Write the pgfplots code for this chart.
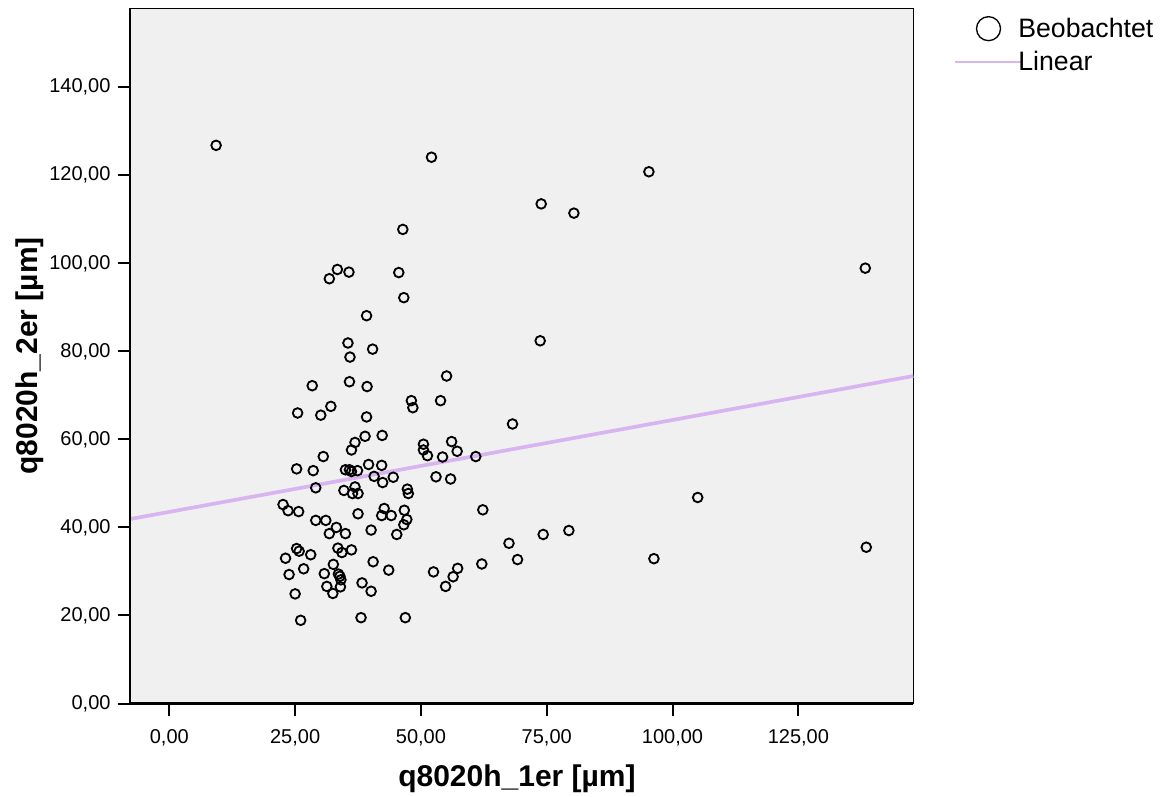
\documentclass[border=0pt]{standalone}
\usepackage{pgfplots}
\pgfplotsset{compat=1.18}
\usepackage{fontspec}
\setmainfont{Liberation Sans}
\definecolor{plotbg}{RGB}{240,240,240}
\definecolor{fitline}{RGB}{216,180,240}

\begin{document}
\begin{tikzpicture}
\path[use as bounding box] (0,0) rectangle (696pt,477.6pt);
\begin{axis}[
  at={(78pt,55.5pt)}, anchor=south west,
  width=470pt, height=417.3pt, scale only axis,
  xmin=-7.81, xmax=147.85, ymin=0, ymax=158,
  clip=false,
  axis background/.style={fill=plotbg},
  axis line style={black, line width=0.6pt},
  xtick={0,25,...,125}, ytick={0,20,...,140},
  tick align=outside, tick pos=left,
  major tick length=7.5pt,
  tick style={black, line width=1.2pt},
  /pgf/number format/.cd, fixed, fixed zerofill, precision=2, use comma, 1000 sep={}, assume math mode=true,
  /pgfplots/.cd,
  tick label style={font=\fontsize{12}{14}\selectfont},
  yticklabel style={inner sep=0pt, xshift=-4pt},
  xticklabel style={inner sep=0pt, yshift=-8pt},
  xlabel={q8020h\_1er [µm]},
  ylabel={q8020h\_2er [µm]},
  label style={font=\fontsize{18}{21}\selectfont\bfseries},
  xlabel style={at={(axis description cs:0.494,-0.12)}, anchor=base, inner sep=0pt},
  ylabel style={at={(axis description cs:-0.1187,0.5)}, anchor=base, inner sep=0pt},
  legend style={at={(axis description cs:1.0532,0.9885)}, anchor=north west,
    draw=none, fill=none, inner sep=0pt, outer sep=0pt,
    font=\fontsize{16}{19}\selectfont,
    nodes={inner sep=0pt},
    row sep=5pt,
    /tikz/every even column/.append style={column sep=0pt}},
  legend cell align=left,
]
\addplot[only marks, mark=o, mark size=2.9pt, mark options={black, line width=1.1pt},
  legend image code/.code={\path[draw=none, fill=none] (0,-7.2pt) rectangle (38pt,7.2pt);
    \draw[black, line width=0.8pt] (20.1pt,0) circle (7.2pt);}]
coordinates {
(9.3,126.8) (52.1,124.1) (95.3,120.8) (73.9,113.5) (80.4,111.4) (46.4,107.7)
(138.3,98.9) (33.4,98.6) (31.8,96.5) (35.7,98.0) (45.6,97.9) (46.6,92.2)
(39.2,88.1) (35.5,81.9) (73.7,82.4) (40.4,80.5) (35.9,78.7) (55.1,74.4)
(28.4,72.2) (35.8,73.1) (39.3,72.0) (48.1,68.8) (48.4,67.2) (53.9,68.8)
(25.5,66.0) (32.1,67.5) (30.1,65.5) (39.2,65.1) (68.2,63.5) (38.9,60.7)
(42.3,60.9) (36.9,59.3) (36.2,57.6) (50.5,58.9) (50.5,57.6) (51.3,56.3)
(56.1,59.5) (57.2,57.3) (54.3,56.0) (60.9,56.1) (30.6,56.1) (25.3,53.3)
(28.6,52.9) (35.0,53.1) (35.8,53.1) (36.2,52.7) (37.4,52.9) (39.6,54.3)
(42.2,54.1) (40.7,51.6) (44.5,51.4) (42.4,50.2) (53.0,51.5) (55.9,51.0)
(29.1,49.0) (34.7,48.4) (36.9,49.2) (36.4,47.7) (37.5,47.7) (47.3,48.7)
(47.5,47.7) (22.6,45.2) (23.6,43.8) (25.7,43.6) (29.1,41.6) (31.1,41.6)
(33.2,40.0) (31.8,38.6) (35.0,38.6) (37.5,43.1) (42.7,44.3) (42.2,42.7)
(44.1,42.7) (46.7,43.9) (47.2,41.8) (46.6,40.6) (45.2,38.4) (40.1,39.4)
(62.3,44.0) (105.0,46.8) (79.4,39.3) (74.3,38.4) (67.5,36.4) (69.2,32.7)
(96.3,32.9) (138.5,35.5) (25.3,35.2) (25.8,34.6) (28.1,33.8) (23.1,33.0)
(33.5,35.3) (34.3,34.3) (36.2,34.9) (26.7,30.6) (23.8,29.3) (32.6,31.6)
(30.8,29.5) (33.6,29.4) (33.9,28.9) (34.1,28.1) (31.3,26.6) (32.5,25.0)
(34.0,26.5) (38.3,27.4) (40.1,25.5) (40.5,32.2) (43.6,30.3) (52.5,29.9)
(57.3,30.7) (56.4,28.8) (54.9,26.6) (62.1,31.7) (25.0,24.9) (26.1,18.9)
(38.1,19.5) (46.9,19.5)
};
\addplot[fitline, line width=2.2pt,
  legend image code/.code={\path[draw=none, fill=none] (0,-7.2pt) rectangle (38pt,7.2pt);
    \draw[overlay, fitline, line width=1.2pt] (0,0) -- (40.2pt,0);}]
coordinates {(-7.81,41.9) (147.85,74.4)};
\legend{Beobachtet, Linear}
\draw[black, line width=1.3pt] (rel axis cs:0,1) -- (rel axis cs:0,0) -- (rel axis cs:1,0);
\end{axis}
\end{tikzpicture}
\end{document}
